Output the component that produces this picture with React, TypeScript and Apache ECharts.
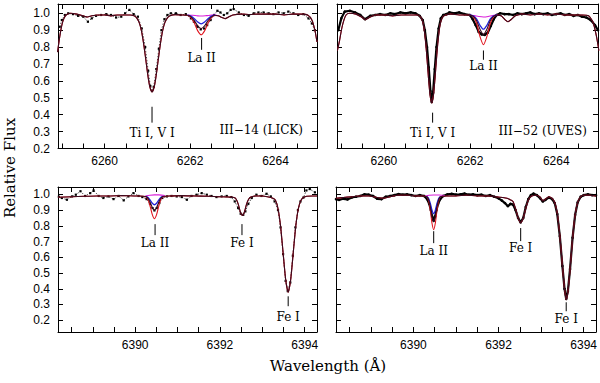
import React, { useEffect, useRef } from "react";
import * as echarts from "echarts";

type P = [number, number];

// ---------- axes ----------
const topRange = [6258.91, 6264.97];
const botRange = [6388.18, 6394.29];
const topFluxRange = [0.2, 1.055];
const botFluxRange = [0.125, 1.047];
const topXTicks = [6259, 6259.5, 6260, 6260.5, 6261, 6261.5, 6262, 6262.5, 6263, 6263.5, 6264, 6264.5];
const topXLabels = [6260, 6262, 6264];
const botXTicks = [6388.5, 6389, 6389.5, 6390, 6390.5, 6391, 6391.5, 6392, 6392.5, 6393, 6393.5, 6394];
const botXLabels = [6390, 6392, 6394];
const fluxTicks = [0.2, 0.3, 0.4, 0.5, 0.6, 0.7, 0.8, 0.9, 1.0];

// ---------- III-14 (LICK), 6262 A ----------
const synth14a: P[] = [
  [6258.9, 0.77], [6258.95, 0.86], [6259.0, 0.93], [6259.05, 0.97], [6259.1, 0.99], [6259.2, 1.0], [6259.35, 0.995],
  [6259.5, 0.985], [6259.6, 0.978], [6259.7, 0.985], [6259.85, 0.99], [6260.0, 0.99], [6260.15, 0.985], [6260.3, 0.99],
  [6260.45, 0.99], [6260.6, 0.99], [6260.69, 0.985], [6260.75, 0.973], [6260.81, 0.945], [6260.86, 0.899], [6260.91, 0.826],
  [6260.96, 0.734], [6261.01, 0.637], [6261.06, 0.563], [6261.11, 0.535], [6261.16, 0.563], [6261.21, 0.637], [6261.26, 0.734],
  [6261.31, 0.826], [6261.36, 0.899], [6261.41, 0.945], [6261.47, 0.973], [6261.53, 0.985], [6261.65, 0.992], [6261.8, 0.99],
  [6261.94, 0.988], [6262.02, 0.979], [6262.1, 0.957], [6262.18, 0.926], [6262.26, 0.91], [6262.34, 0.926], [6262.42, 0.957],
  [6262.5, 0.979], [6262.58, 0.988], [6262.66, 0.985], [6262.74, 0.975], [6262.82, 0.968], [6262.9, 0.978], [6263.0, 0.99],
  [6263.2, 0.995], [6263.4, 0.993], [6263.6, 0.995], [6263.8, 0.995], [6264.0, 0.995], [6264.2, 0.99], [6264.4, 0.995],
  [6264.6, 0.995], [6264.75, 0.99], [6264.85, 0.96], [6264.92, 0.9], [6264.97, 0.83],
];
const la14aRed: P[] = [
  [6261.94, 0.987], [6262.02, 0.974], [6262.1, 0.942], [6262.18, 0.896], [6262.26, 0.873], [6262.34, 0.896], [6262.42, 0.942],
  [6262.5, 0.974], [6262.58, 0.987],
];
const la14aBlue: P[] = [
  [6261.94, 0.989], [6262.02, 0.983], [6262.1, 0.968], [6262.18, 0.948], [6262.26, 0.937], [6262.34, 0.948], [6262.42, 0.968],
  [6262.5, 0.983], [6262.58, 0.989],
];
const la14aNone: P[] = [
  [6261.94, 0.99], [6262.06, 0.988], [6262.18, 0.985], [6262.26, 0.984], [6262.38, 0.986], [6262.5, 0.989], [6262.62, 0.99],
];
const obs14a: P[] = [
  [6258.95, 0.92], [6259.0, 0.96], [6259.07, 0.99], [6259.15, 1.0], [6259.26, 0.995], [6259.38, 0.985], [6259.5, 0.98],
  [6259.61, 0.95], [6259.7, 0.97], [6259.8, 0.985], [6259.92, 0.99], [6260.04, 0.995], [6260.15, 0.99], [6260.27, 0.975],
  [6260.39, 0.98], [6260.48, 1.0], [6260.58, 1.02], [6260.68, 0.995], [6260.78, 0.98], [6260.87, 0.91], [6260.95, 0.8],
  [6261.02, 0.66], [6261.07, 0.57], [6261.11, 0.54], [6261.15, 0.565], [6261.21, 0.67], [6261.27, 0.79], [6261.33, 0.9],
  [6261.4, 0.965], [6261.47, 0.99], [6261.55, 1.0], [6261.67, 1.0], [6261.78, 0.99], [6261.9, 0.995], [6262.02, 0.97],
  [6262.09, 0.95], [6262.17, 0.92], [6262.25, 0.905], [6262.33, 0.91], [6262.4, 0.93], [6262.48, 0.96], [6262.56, 0.99],
  [6262.64, 1.015], [6262.71, 1.005], [6262.79, 0.99], [6262.87, 1.0], [6262.95, 1.02], [6263.02, 1.025], [6263.14, 1.005],
  [6263.26, 0.99], [6263.37, 0.985], [6263.49, 1.0], [6263.6, 1.005], [6263.72, 1.005], [6263.84, 1.0], [6263.95, 0.995],
  [6264.07, 1.005], [6264.19, 1.0], [6264.3, 1.01], [6264.42, 1.0], [6264.53, 0.99], [6264.65, 0.995], [6264.77, 0.97],
  [6264.85, 0.94], [6264.92, 0.9],
];

// ---------- III-52 (UVES), 6262 A ----------
const synth52a: P[] = [
  [6258.92, 0.78], [6258.97, 0.84], [6259.02, 0.91], [6259.07, 0.96], [6259.12, 0.99], [6259.2, 1.0], [6259.35, 0.995],
  [6259.48, 0.978], [6259.57, 0.962], [6259.66, 0.975], [6259.8, 0.99], [6260.0, 0.99], [6260.2, 0.985], [6260.4, 0.99],
  [6260.6, 0.99], [6260.78, 0.99], [6260.86, 0.976], [6260.91, 0.94], [6260.95, 0.871], [6260.99, 0.764], [6261.03, 0.63],
  [6261.07, 0.517], [6261.11, 0.47], [6261.15, 0.517], [6261.19, 0.63], [6261.23, 0.764], [6261.27, 0.871], [6261.31, 0.94],
  [6261.36, 0.976], [6261.42, 0.988], [6261.55, 0.995], [6261.75, 0.99], [6261.9, 0.99], [6261.99, 0.989], [6262.07, 0.983],
  [6262.15, 0.957], [6262.23, 0.905], [6262.31, 0.873], [6262.39, 0.905], [6262.47, 0.957], [6262.55, 0.983], [6262.63, 0.989],
  [6262.72, 0.985], [6262.8, 0.965], [6262.88, 0.95], [6262.96, 0.965], [6263.05, 0.985], [6263.2, 0.995], [6263.4, 0.99],
  [6263.6, 0.995], [6263.8, 0.99], [6264.0, 0.995], [6264.2, 0.99], [6264.4, 0.99], [6264.6, 0.99], [6264.75, 0.985],
  [6264.85, 0.95], [6264.93, 0.87], [6264.99, 0.78],
];
const la52aRed: P[] = [
  [6261.99, 0.989], [6262.07, 0.98], [6262.15, 0.941], [6262.23, 0.862], [6262.31, 0.814], [6262.39, 0.862], [6262.47, 0.941],
  [6262.55, 0.98], [6262.63, 0.989],
];
const la52aBlue: P[] = [
  [6261.99, 0.99], [6262.07, 0.985], [6262.15, 0.967], [6262.23, 0.929], [6262.31, 0.906], [6262.39, 0.929], [6262.47, 0.967],
  [6262.55, 0.985], [6262.63, 0.99],
];
const la52aNone: P[] = [
  [6261.99, 0.99], [6262.1, 0.986], [6262.2, 0.981], [6262.31, 0.978], [6262.42, 0.981], [6262.52, 0.987], [6262.63, 0.99],
];
const obs52a: P[] = [
  [6258.94, 0.9], [6259.01, 0.97], [6259.09, 1.01], [6259.21, 1.015], [6259.33, 1.005], [6259.45, 0.99], [6259.56, 0.965],
  [6259.68, 0.985], [6259.8, 0.99], [6259.91, 0.995], [6260.03, 0.99], [6260.15, 1.0], [6260.26, 0.995], [6260.38, 1.005],
  [6260.5, 1.0], [6260.62, 1.005], [6260.73, 1.0], [6260.83, 0.985], [6260.9, 0.96], [6260.95, 0.9], [6261.0, 0.8],
  [6261.04, 0.68], [6261.08, 0.54], [6261.11, 0.475], [6261.14, 0.53], [6261.18, 0.67], [6261.22, 0.8], [6261.27, 0.91],
  [6261.32, 0.97], [6261.38, 0.99], [6261.45, 0.995], [6261.52, 1.005], [6261.63, 1.0], [6261.75, 1.005], [6261.87, 0.995],
  [6261.99, 0.99], [6262.06, 0.965], [6262.13, 0.93], [6262.2, 0.89], [6262.27, 0.875], [6262.34, 0.872], [6262.41, 0.885],
  [6262.48, 0.925], [6262.55, 0.965], [6262.62, 0.99], [6262.7, 1.0], [6262.8, 0.995], [6262.9, 0.995], [6263.0, 0.99],
  [6263.1, 1.0], [6263.2, 0.995], [6263.3, 1.0], [6263.4, 1.005], [6263.5, 0.995], [6263.6, 1.0], [6263.7, 0.995],
  [6263.8, 1.0], [6263.9, 0.99], [6264.0, 0.995], [6264.1, 1.0], [6264.2, 0.99], [6264.3, 0.995], [6264.4, 0.985],
  [6264.5, 0.99], [6264.6, 0.98], [6264.7, 0.975], [6264.8, 0.96], [6264.9, 0.93], [6264.97, 0.9],
];

// ---------- III-14 (LICK), 6390 A ----------
const synth14b: P[] = [
  [6388.18, 0.982], [6388.5, 0.985], [6388.8, 0.988], [6389.1, 0.99], [6389.4, 0.99], [6389.7, 0.992], [6390.0, 0.99],
  [6390.1, 0.99], [6390.255, 0.986], [6390.305, 0.975], [6390.355, 0.949], [6390.405, 0.916], [6390.455, 0.898],
  [6390.505, 0.916], [6390.555, 0.949], [6390.605, 0.975], [6390.655, 0.986], [6390.8, 0.99], [6391.1, 0.992], [6391.4, 0.99],
  [6391.7, 0.988], [6392.0, 0.985], [6392.2, 0.983], [6392.33, 0.98], [6392.38, 0.971], [6392.43, 0.94], [6392.48, 0.89],
  [6392.53, 0.866], [6392.58, 0.89], [6392.63, 0.94], [6392.68, 0.971], [6392.73, 0.983], [6392.85, 0.99], [6393.0, 0.99],
  [6393.12, 0.985], [6393.25, 0.975], [6393.31, 0.962], [6393.37, 0.91], [6393.43, 0.8], [6393.49, 0.63], [6393.55, 0.46],
  [6393.61, 0.378], [6393.67, 0.46], [6393.73, 0.63], [6393.79, 0.8], [6393.85, 0.91], [6393.91, 0.962], [6393.97, 0.98],
  [6394.05, 0.988], [6394.18, 0.99], [6394.29, 0.99],
];
const la14bRed: P[] = [
  [6390.255, 0.983], [6390.305, 0.965], [6390.355, 0.923], [6390.405, 0.871], [6390.455, 0.845], [6390.505, 0.871],
  [6390.555, 0.923], [6390.605, 0.965], [6390.655, 0.983],
];
const la14bBlue: P[] = [
  [6390.255, 0.987], [6390.305, 0.98], [6390.355, 0.964], [6390.405, 0.944], [6390.455, 0.934], [6390.505, 0.944],
  [6390.555, 0.964], [6390.605, 0.98], [6390.655, 0.987],
];
const la14bNone: P[] = [
  [6390.24, 0.99], [6390.35, 0.995], [6390.455, 0.997], [6390.56, 0.997], [6390.7, 0.993],
];
const obs14b: P[] = [
  [6388.2, 0.985], [6388.27, 0.977], [6388.39, 0.966], [6388.51, 0.987], [6388.6, 0.998], [6388.71, 1.02], [6388.82, 0.99],
  [6388.94, 1.008], [6389.02, 1.025], [6389.14, 0.99], [6389.25, 0.977], [6389.37, 0.987], [6389.49, 0.97], [6389.61, 0.99],
  [6389.73, 0.962], [6389.84, 0.987], [6389.96, 1.008], [6390.08, 0.99], [6390.17, 0.983], [6390.27, 0.97], [6390.35, 0.94],
  [6390.41, 0.913], [6390.455, 0.898], [6390.51, 0.913], [6390.57, 0.945], [6390.64, 0.977], [6390.75, 0.987], [6390.86, 0.99],
  [6390.98, 0.987], [6391.1, 0.983], [6391.22, 0.966], [6391.33, 0.99], [6391.45, 0.998], [6391.57, 1.008], [6391.69, 0.998],
  [6391.8, 0.99], [6391.92, 0.983], [6392.04, 0.987], [6392.16, 0.99], [6392.27, 0.983], [6392.35, 0.955], [6392.43, 0.913],
  [6392.49, 0.877], [6392.55, 0.87], [6392.6, 0.892], [6392.67, 0.94], [6392.75, 0.977], [6392.86, 0.998], [6392.98, 0.99],
  [6393.1, 1.004], [6393.2, 0.987], [6393.29, 0.955], [6393.37, 0.9], [6393.43, 0.79], [6393.49, 0.62], [6393.55, 0.45],
  [6393.6, 0.385], [6393.66, 0.44], [6393.72, 0.61], [6393.78, 0.79], [6393.84, 0.9], [6393.9, 0.955], [6393.97, 0.98],
  [6394.04, 1.025], [6394.12, 1.034], [6394.24, 1.013],
];

// ---------- III-52 (UVES), 6390 A ----------
const synth52b: P[] = [
  [6388.18, 0.975], [6388.35, 0.98], [6388.55, 0.985], [6388.75, 0.99], [6388.95, 0.99], [6389.15, 0.98], [6389.3, 0.975],
  [6389.45, 0.985], [6389.65, 0.995], [6389.85, 0.995], [6390.05, 0.99], [6390.2, 0.99], [6390.315, 0.985], [6390.355, 0.968],
  [6390.395, 0.924], [6390.435, 0.86], [6390.475, 0.828], [6390.515, 0.86], [6390.555, 0.924], [6390.595, 0.968],
  [6390.635, 0.985], [6390.75, 0.99], [6391.0, 0.99], [6391.25, 0.995], [6391.5, 0.99], [6391.75, 0.99], [6391.95, 0.985],
  [6392.1, 0.98], [6392.2, 0.975], [6392.28, 0.965], [6392.34, 0.955], [6392.4, 0.91], [6392.46, 0.85], [6392.52, 0.82],
  [6392.58, 0.85], [6392.64, 0.91], [6392.7, 0.965], [6392.78, 0.99], [6392.88, 0.995], [6392.97, 0.985], [6393.04, 0.96],
  [6393.1, 0.97], [6393.18, 0.985], [6393.26, 0.975], [6393.32, 0.95], [6393.38, 0.88], [6393.44, 0.74], [6393.5, 0.55],
  [6393.55, 0.4], [6393.59, 0.33], [6393.63, 0.38], [6393.68, 0.52], [6393.74, 0.72], [6393.8, 0.87], [6393.86, 0.95],
  [6393.93, 0.985], [6394.0, 0.995], [6394.15, 0.995], [6394.29, 0.99],
];
const la52bRed: P[] = [
  [6390.315, 0.984], [6390.355, 0.961], [6390.395, 0.902], [6390.435, 0.818], [6390.475, 0.775], [6390.515, 0.818],
  [6390.555, 0.902], [6390.595, 0.961], [6390.635, 0.984],
];
const la52bBlue: P[] = [
  [6390.315, 0.987], [6390.355, 0.975], [6390.395, 0.944], [6390.435, 0.9], [6390.475, 0.877], [6390.515, 0.9],
  [6390.555, 0.944], [6390.595, 0.975], [6390.635, 0.987],
];
const la52bNone: P[] = [
  [6390.28, 0.99], [6390.37, 0.995], [6390.475, 0.996], [6390.6, 0.996], [6390.74, 0.993],
];
const obs52b: P[] = [
  [6388.18, 0.97], [6388.25, 0.965], [6388.35, 0.972], [6388.45, 0.968], [6388.55, 0.98], [6388.65, 0.985], [6388.75, 0.99],
  [6388.85, 1.0], [6388.95, 0.998], [6389.05, 0.99], [6389.15, 0.972], [6389.25, 0.97], [6389.35, 0.985], [6389.45, 0.99],
  [6389.55, 0.995], [6389.65, 1.002], [6389.75, 0.998], [6389.85, 1.0], [6389.95, 0.995], [6390.05, 0.99], [6390.15, 0.995],
  [6390.25, 0.99], [6390.32, 0.97], [6390.37, 0.94], [6390.41, 0.9], [6390.44, 0.86], [6390.475, 0.832], [6390.51, 0.86],
  [6390.54, 0.9], [6390.58, 0.94], [6390.63, 0.97], [6390.7, 0.99], [6390.8, 1.0], [6390.9, 1.003], [6391.0, 0.998],
  [6391.1, 1.0], [6391.2, 1.005], [6391.3, 0.998], [6391.4, 1.0], [6391.5, 0.995], [6391.6, 0.998], [6391.7, 0.99],
  [6391.8, 0.995], [6391.9, 0.985], [6392.0, 0.975], [6392.08, 0.96], [6392.15, 0.945], [6392.22, 0.925], [6392.28, 0.94],
  [6392.34, 0.935], [6392.4, 0.9], [6392.46, 0.85], [6392.52, 0.822], [6392.58, 0.85], [6392.64, 0.92], [6392.7, 0.97],
  [6392.76, 0.995], [6392.82, 1.005], [6392.9, 0.995], [6392.98, 0.975], [6393.04, 0.955], [6393.1, 0.965], [6393.18, 0.98],
  [6393.26, 0.97], [6393.32, 0.945], [6393.38, 0.875], [6393.44, 0.735], [6393.5, 0.545], [6393.55, 0.4], [6393.59, 0.335],
  [6393.63, 0.385], [6393.68, 0.525], [6393.74, 0.725], [6393.8, 0.87], [6393.86, 0.95], [6393.93, 0.985], [6394.0, 0.995],
  [6394.1, 1.0], [6394.2, 0.995], [6394.29, 0.995],
];

// ---------- labels ----------
const starNames = ["III\u221214 (LICK)", "III\u221252 (UVES)"];
const lineIds = [
  { panel: 0, text: "Ti I, V I", wl: 6261.11, from: 0.447, to: 0.353, at: 0.294 },
  { panel: 0, text: "La II", wl: 6262.27, from: 0.854, to: 0.784, at: 0.736 },
  { panel: 1, text: "Ti I, V I", wl: 6261.13, from: 0.412, to: 0.353, at: 0.294 },
  { panel: 1, text: "La II", wl: 6262.31, from: 0.78, to: 0.725, at: 0.689 },
  { panel: 2, text: "La II", wl: 6390.47, from: 0.811, to: 0.741, at: 0.688 },
  { panel: 2, text: "Fe I", wl: 6392.52, from: 0.811, to: 0.741, at: 0.688 },
  { panel: 2, text: "Fe I", wl: 6393.61, from: 0.352, to: 0.289, at: 0.223 },
  { panel: 3, text: "La II", wl: 6390.476, from: 0.766, to: 0.69, at: 0.639 },
  { panel: 3, text: "Fe I", wl: 6392.52, from: 0.786, to: 0.703, at: 0.662 },
  { panel: 3, text: "Fe I", wl: 6393.59, from: 0.314, to: 0.257, at: 0.206 },
];

function withProfile(base: P[], profile: P[]): P[] {
  const lo = profile[0][0];
  const hi = profile[profile.length - 1][0];
  return base
    .filter((p) => p[0] < lo || p[0] > hi)
    .concat(profile)
    .sort((a, b) => a[0] - b[0]);
}

const panels = [
  { grid: { left: 58, top: 4, width: 259, height: 144.5 }, xr: topRange, yr: topFluxRange, xt: topXTicks, xl: topXLabels, ylab: true, lick: true, obs: obs14a, synth: synth14a, red: la14aRed, blue: la14aBlue, none: la14aNone },
  { grid: { left: 337, top: 4, width: 261, height: 144.5 }, xr: topRange, yr: topFluxRange, xt: topXTicks, xl: topXLabels, ylab: false, lick: false, obs: obs52a, synth: synth52a, red: la52aRed, blue: la52aBlue, none: la52aNone },
  { grid: { left: 58, top: 187, width: 259, height: 145 }, xr: botRange, yr: botFluxRange, xt: botXTicks, xl: botXLabels, ylab: true, lick: true, obs: obs14b, synth: synth14b, red: la14bRed, blue: la14bBlue, none: la14bNone },
  { grid: { left: 336, top: 187, width: 262, height: 145 }, xr: botRange, yr: botFluxRange, xt: botXTicks, xl: botXLabels, ylab: false, lick: false, obs: obs52b, synth: synth52b, red: la52bRed, blue: la52bBlue, none: la52bNone },
];

const black = "#000";
const tickFont = { fontFamily: "Liberation Sans", fontSize: 12, color: black };

export default function App() {
  const ref = useRef<HTMLDivElement>(null);
  useEffect(() => {
    if (!ref.current) return;
    const chart = echarts.init(ref.current, undefined, { renderer: "svg" });
    const xAxes: any[] = [];
    const yAxes: any[] = [];
    const series: any[] = [];
    const frameLine = { show: true, onZero: false, lineStyle: { color: black, width: 1 } };
    const tick = (vals: number[]) => ({ show: true, inside: true, length: 5, customValues: vals, lineStyle: { color: black, width: 1 } });
    panels.forEach((p, i) => {
      xAxes[i] = {
        gridIndex: i, type: "value", position: "bottom", min: p.xr[0], max: p.xr[1],
        axisLine: frameLine, axisTick: tick(p.xt), splitLine: { show: false },
        axisLabel: { ...tickFont, margin: i < 2 ? 6 : 7, customValues: p.xl, formatter: (v: number) => String(Math.round(v)) },
      };
      xAxes[i + 4] = {
        gridIndex: i, type: "value", position: "top", min: p.xr[0], max: p.xr[1],
        axisLine: frameLine, axisTick: tick(p.xt), splitLine: { show: false }, axisLabel: { show: false },
      };
      yAxes[i] = {
        gridIndex: i, type: "value", position: "left", min: p.yr[0], max: p.yr[1],
        axisLine: frameLine, axisTick: tick(fluxTicks), splitLine: { show: false },
        axisLabel: p.ylab
          ? { ...tickFont, margin: 8, customValues: fluxTicks, formatter: (v: number) => v.toFixed(1) }
          : { show: false },
      };
      yAxes[i + 4] = {
        gridIndex: i, type: "value", position: "right", min: p.yr[0], max: p.yr[1],
        axisLine: frameLine, axisTick: tick(fluxTicks), splitLine: { show: false }, axisLabel: { show: false },
      };
      const common = { xAxisIndex: i, yAxisIndex: i, silent: true, clip: true };
      series.push({
        ...common, type: "line", data: p.obs, showSymbol: true,
        symbol: p.lick ? "rect" : "circle", symbolSize: p.lick ? 2.2 : 2.6,
        itemStyle: { color: black },
        lineStyle: p.lick ? { color: black, width: 0.7, type: [1.5, 1.5] } : { color: black, width: 2.2 },
        z: 2,
      });
      series.push({
        ...common, type: "line", data: withProfile(p.synth, p.red), showSymbol: false, smooth: 0.2,
        lineStyle: { color: "#e0141e", width: 1.1 }, z: 3,
      });
      series.push({
        ...common, type: "line", data: p.none, showSymbol: false, smooth: 0.3,
        lineStyle: { color: "#d91fd9", width: 1.1 }, z: 4,
      });
      series.push({
        ...common, type: "line", data: p.blue, showSymbol: false, smooth: 0.2,
        lineStyle: { color: "#2222d8", width: 1.3 }, z: 4,
      });
      series.push({
        ...common, type: "line", data: p.synth, showSymbol: false, smooth: 0.2,
        lineStyle: { color: "#3a0a1e", width: 1.1 }, z: 5,
      });
    });

    chart.setOption({
      animation: false,
      backgroundColor: "#fff",
      grid: panels.map((p) => ({ ...p.grid, containLabel: false })),
      xAxis: xAxes,
      yAxis: yAxes,
      series,
    });

    const serif = "DejaVu Serif";
    const g: any[] = [];
    lineIds.forEach((a) => {
      const f = { xAxisIndex: a.panel, yAxisIndex: a.panel };
      const p1 = chart.convertToPixel(f as any, [a.wl, a.from]) as number[];
      const p2 = chart.convertToPixel(f as any, [a.wl, a.to]) as number[];
      const pt = chart.convertToPixel(f as any, [a.wl, a.at]) as number[];
      g.push({ type: "line", shape: { x1: p1[0], y1: p1[1], x2: p2[0], y2: p2[1] }, style: { stroke: black, lineWidth: 1 }, silent: true });
      g.push({ type: "text", x: pt[0], y: pt[1], style: { text: a.text, fontFamily: serif, fontSize: 12, fill: black, textAlign: "center", textVerticalAlign: "middle" }, silent: true });
    });
    g.push({ type: "text", x: 303, y: 130, style: { text: starNames[0], fontFamily: serif, fontSize: 12, fill: black, textAlign: "right", textVerticalAlign: "middle" }, silent: true });
    g.push({ type: "text", x: 587, y: 131, style: { text: starNames[1], fontFamily: serif, fontSize: 12, fill: black, textAlign: "right", textVerticalAlign: "middle" }, silent: true });
    g.push({ type: "text", x: 10, y: 168, rotation: Math.PI / 2, style: { text: "Relative Flux", fontFamily: serif, fontSize: 15, fill: black, textAlign: "center", textVerticalAlign: "middle" }, silent: true });
    g.push({ type: "text", x: 328, y: 366, style: { text: "Wavelength (\u00C5)", fontFamily: serif, fontSize: 15, fill: black, textAlign: "center", textVerticalAlign: "middle" }, silent: true });
    chart.setOption({ graphic: g });

    return () => chart.dispose();
  }, []);
  return <div ref={ref} style={{ position: "fixed", left: 0, top: 0, width: 600, height: 383, background: "#fff" }} />;
}
